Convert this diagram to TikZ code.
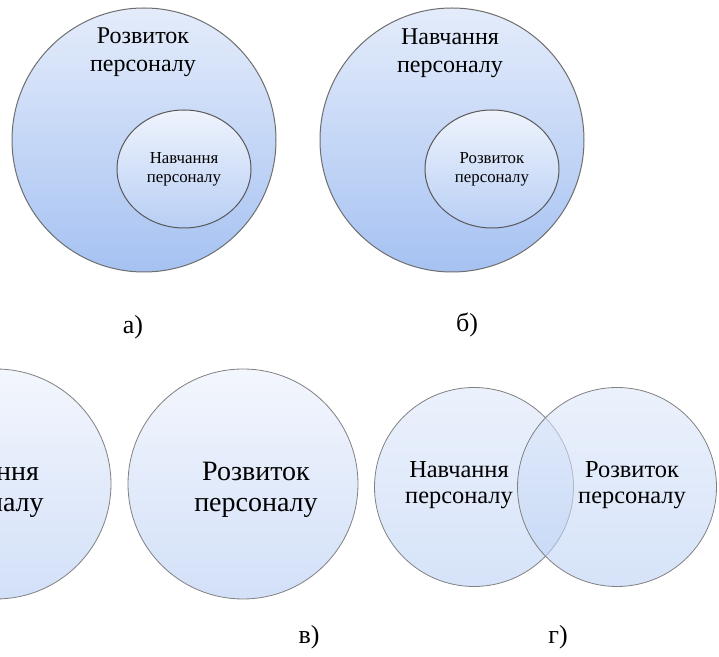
\documentclass[tikz,border=0pt]{standalone}
\usepackage{fontspec}
\setmainfont{Liberation Serif}
\usetikzlibrary{shapes.geometric}

\definecolor{skyTop}{RGB}{228,236,251}
\definecolor{skyBot}{RGB}{166,194,242}
\definecolor{paleTop}{RGB}{243,246,253}
\definecolor{paleBot}{RGB}{210,224,248}
\definecolor{mistTop}{RGB}{222,232,250}
\definecolor{mistBot}{RGB}{186,208,244}
\definecolor{rim}{RGB}{110,110,110}

\begin{document}
\begin{tikzpicture}[x=0.5pt, y=-0.5pt,
    bigdisc/.style={circle, inner sep=0pt, minimum size=132pt, draw=rim, line width=0.5pt,
        top color=skyTop, bottom color=skyBot},
    innerdisc/.style={ellipse, inner sep=0pt, minimum width=67pt, minimum height=59pt,
        draw=rim!80!black, line width=0.5pt, top color=skyTop!60!white, bottom color=skyBot!80!white},
    soloDisc/.style={circle, inner sep=0pt, minimum size=115pt, draw=gray, line width=0.4pt,
        top color=paleTop, bottom color=paleBot},
    vennDisc/.style={circle, inner sep=0pt, minimum size=99.5pt, draw=gray, line width=0.4pt,
        fill opacity=0.6, draw opacity=1, top color=mistTop, bottom color=mistBot},
    bigtext/.style={align=center, font=\fontsize{12}{14}\selectfont},
    smalltext/.style={align=center, font=\fontsize{8.4}{9.5}\selectfont},
    solotext/.style={align=center, font=\fontsize{14}{15.5}\selectfont},
    venntext/.style={align=center, font=\fontsize{12.2}{13}\selectfont},
    tag/.style={font=\fontsize{13}{15}\selectfont}]

    \useasboundingbox (0,0) rectangle (719,657);

    % а) training inside development
    \node[bigdisc] (devA) at (144,140) {};
    \node[innerdisc] (trainA) at (184,169) {};
    \node[bigtext] (devAtxt) at (143,52) {Розвиток\\персоналу};
    \node[smalltext] (trainAtxt) at (trainA) {Навчання\\персоналу};
    \node[tag] (tagA) at (133,327) {а)};

    % б) development inside training
    \node[bigdisc] (trainB) at (452,140) {};
    \node[innerdisc] (devB) at (492,169) {};
    \node[bigtext] (trainBtxt) at (450,53) {Навчання\\персоналу};
    \node[smalltext] (devBtxt) at (devB) {Розвиток\\персоналу};
    \node[tag] (tagB) at (467,325) {б)};

    % в) apart
    \node[soloDisc] (trainC) at (-4,484) {};
    \node[soloDisc] (devC) at (243,484) {};
    \node[solotext] (trainCtxt) at (-18,490) {Навчання\\персоналу};
    \node[solotext] (devCtxt) at (256,490) {Розвиток\\персоналу};
    \node[tag] (tagC) at (309,637) {в)};

    % г) overlap
    \node[vennDisc] (trainD) at (474,487) {};
    \node[vennDisc] (devD) at (617,487) {};
    \node[venntext] (trainDtxt) at (459,485) {Навчання\\персоналу};
    \node[venntext] (devDtxt) at (632,485) {Розвиток\\персоналу};
    \node[tag] (tagD) at (558,637) {г)};
\end{tikzpicture}
\end{document}
